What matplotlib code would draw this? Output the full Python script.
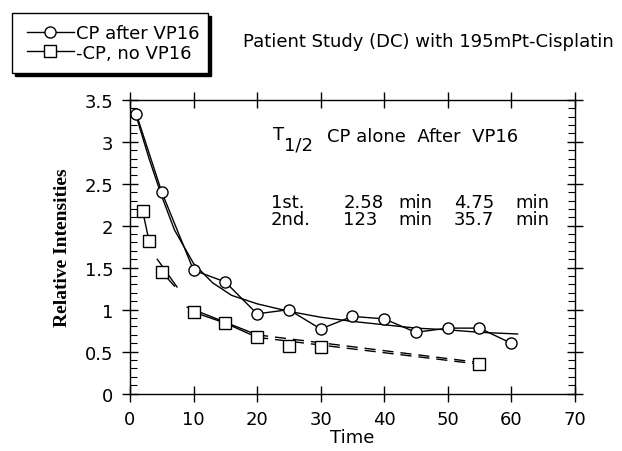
import matplotlib.pyplot as plt
from matplotlib.lines import Line2D
from matplotlib.patches import Rectangle
from matplotlib.ticker import MultipleLocator, FormatStrFormatter

# CP after VP16 (circles)
t_after = [1, 5, 10, 15, 20, 25, 30, 35, 40, 45, 50, 55, 60]
i_after = [3.33, 2.40, 1.47, 1.33, 0.95, 1.00, 0.77, 0.92, 0.89, 0.73, 0.78, 0.78, 0.60]
# fitted curve
t_fit = [1, 3, 5, 7, 10, 13, 16, 20, 25, 30, 35, 40, 45, 50, 55, 61]
i_fit = [3.30, 2.80, 2.35, 1.95, 1.55, 1.32, 1.17, 1.07, 0.98, 0.91, 0.86, 0.82, 0.78, 0.76, 0.73, 0.71]

# CP, no VP16 (squares)
t_no = [2, 3, 5, 10, 15, 20, 25, 30, 55]
i_no = [2.17, 1.82, 1.45, 0.97, 0.84, 0.67, 0.57, 0.55, 0.35]
# fitted segments
t_fast = [4.3, 7.4]
i_fast = [1.60, 1.27]
t_tail = [5, 7]
i_tail = [1.45, 1.28]
t_slow1 = [9, 15, 20]
i_slow1 = [1.03, 0.85, 0.70]
t_slow2 = [20, 55]
i_slow2 = [0.70, 0.37]

fig = plt.figure(figsize=(6.22, 4.52), dpi=100)
ax = fig.add_axes([0.209, 0.127, 0.715, 0.65])

mk = dict(mfc='white', mec='black', ms=8, mew=1, color='black', lw=1)
ax.plot(t_fit, i_fit, color='black', lw=1)
ax.plot(t_after, i_after, 'o-', **mk)

ax.plot(t_no[:2], i_no[:2], color='black', lw=1)
ax.plot(t_fast, i_fast, color='black', lw=1)
ax.plot(t_tail, i_tail, color='black', lw=1)
ax.plot(t_slow1, i_slow1, color='black', lw=1)
ax.plot(t_no[3:6], i_no[3:6], color='black', lw=1)
ax.plot(t_slow2, i_slow2, color='black', lw=1, ls=(0, (8, 5)))
ax.plot([t_no[5], t_no[8]], [i_no[5], i_no[8]], color='black', lw=1, ls=(0, (8, 5)))
ax.plot(t_no, i_no, 's', ls='none', **mk)

ax.set_xlim(0, 70)
ax.set_ylim(0, 3.5)
ax.xaxis.set_major_locator(MultipleLocator(10))
ax.yaxis.set_major_locator(MultipleLocator(0.5))
ax.yaxis.set_minor_locator(MultipleLocator(0.1))
ax.yaxis.set_major_formatter(FormatStrFormatter('%g'))
ax.tick_params(which='major', direction='inout', length=12, width=1,
               top=True, right=True, labelsize=13, pad=6)
ax.tick_params(which='minor', direction='in', length=5, width=0.8, left=True, right=True)
for s in ax.spines.values():
    s.set_linewidth(1)

ax.set_xlabel('Time', fontsize=13, labelpad=0)
ax.set_ylabel('Relative Intensities', fontsize=14, family='Liberation Serif',
              fontweight='bold', labelpad=10)

ax.text(22.5, 2.98, 'T', fontsize=13, va='bottom')
ax.text(24.3, 2.86, '1/2', fontsize=13, va='bottom')
ax.text(31, 3.07, 'CP alone  After  VP16', fontsize=13, va='center')
row1 = ['1st.', '2.58', 'min', '4.75', 'min']
row2 = ['2nd.', '123', 'min', '35.7', 'min']
cols = [22.2, 33.6, 42.2, 51.0, 60.6]
for x, a, b in zip(cols, row1, row2):
    ax.text(x, 2.28, a, fontsize=13, va='center')
    ax.text(x, 2.08, b, fontsize=13, va='center')

fig.text(0.39, 0.907, 'Patient Study (DC) with 195mPt-Cisplatin', fontsize=13, va='center')

# legend box with shadow
fig.patches.append(Rectangle((0.024, 0.83), 0.315, 0.132, transform=fig.transFigure,
                             facecolor='black', edgecolor='black', zorder=1))
fig.patches.append(Rectangle((0.019, 0.837), 0.315, 0.132, transform=fig.transFigure,
                             facecolor='white', edgecolor='black', lw=1, zorder=2))
h1 = Line2D([0], [0], marker='o', ls='-', **mk)
h2 = Line2D([0], [0], marker='s', ls='-', **mk)
fig.legend([h1, h2], ['CP after VP16', '-CP, no VP16'], loc='upper left',
           bbox_to_anchor=(0.02, 0.977), frameon=False, fontsize=13,
           handlelength=2.6, handletextpad=0.1, labelspacing=0.1, borderpad=0.3)

fig.savefig('out.png', dpi=100)
